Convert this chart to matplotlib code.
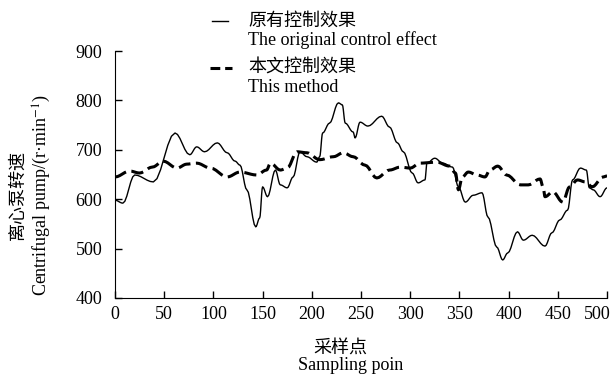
import matplotlib
matplotlib.use("Agg")
import matplotlib.pyplot as plt
from matplotlib.lines import Line2D
from matplotlib.transforms import ScaledTranslation
import numpy as np

plt.rcParams['font.family'] = ['Liberation Serif', 'Noto Sans CJK SC']
plt.rcParams['mathtext.fontset'] = 'stix'

orig_x = [0, 8, 20, 39, 61, 76, 83, 91, 104, 114, 122, 127, 134, 143, 147, 150, 155, 163, 168, 175,
          181, 188, 195, 205, 208, 211, 218, 227, 231, 234, 242, 244, 249, 257, 271, 279, 287, 293,
          302, 308, 315, 317, 325, 333, 343, 349, 356, 364, 373, 379, 388, 394, 399, 409, 415, 424,
          437, 444, 452, 460, 465, 473, 479, 482, 486, 493, 500]
orig_y = [598, 592, 649, 635, 734, 690, 706, 696, 714, 694, 677, 669, 619, 544, 562, 625, 605, 659, 629, 623,
          645, 696, 686, 675, 686, 734, 754, 795, 791, 754, 736, 724, 756, 748, 768, 746, 714, 696,
          653, 633, 639, 673, 683, 673, 665, 625, 594, 608, 613, 564, 503, 477, 491, 534, 517, 527,
          505, 532, 558, 578, 639, 663, 659, 623, 619, 605, 623]

new_x = [0, 15, 25, 38, 49, 63, 73, 83, 97, 114, 127, 144, 154, 158, 168, 175, 185, 195, 208, 222,
         232, 242, 254, 266, 279, 290, 300, 310, 327, 340, 346, 349, 353, 359, 368, 376, 381, 389,
         398, 412, 420, 432, 435, 437, 445, 455, 462, 470, 478, 485, 496, 500]
new_y = [645, 657, 653, 665, 677, 663, 671, 673, 663, 645, 655, 649, 659, 673, 659, 663, 696, 694, 680, 686,
         694, 686, 669, 643, 659, 665, 663, 673, 675, 667, 653, 619, 645, 655, 649, 645, 659, 667,
         649, 629, 629, 641, 625, 605, 615, 594, 625, 639, 635, 625, 645, 647]

xticks = [0, 50, 100, 150, 200, 250, 300, 350, 400, 450, 500]
yticks = [400, 500, 600, 700, 800, 900]

FS = 13
W, H = 616, 376
fig = plt.figure(figsize=(6.16, 3.76), dpi=100)
ax = fig.add_axes([115/W, 78/H, 492/W, 247/H])

def smooth(x, y, n=6):
    xs, ys = [], []
    x = np.asarray(x, float); y = np.asarray(y, float)
    for i in range(len(x) - 1):
        t = np.linspace(0, 1, n, endpoint=False)
        tt = (1 - np.cos(np.pi * t)) / 2
        xs.extend(x[i] + (x[i+1] - x[i]) * t)
        ys.extend(y[i] + (y[i+1] - y[i]) * tt)
    xs.append(x[-1]); ys.append(y[-1])
    return xs, ys

ox, oy = smooth(orig_x, orig_y)
nx, ny = smooth(new_x, new_y)
ax.plot(ox, oy, color='black', lw=1.0)
ax.plot(nx, ny, color='black', lw=2.2, dashes=(4, 1.8))

ax.set_xlim(0, 500)
ax.set_ylim(400, 900)
ax.set_xticks(xticks)
ax.set_yticks(yticks)
for s in ['top', 'right']:
    ax.spines[s].set_visible(False)
ax.tick_params(direction='in', length=5, width=1, labelsize=FS)
ax.tick_params(axis='y', pad=9)
ax.tick_params(axis='x', pad=6)
lbl = ax.get_xticklabels()[-1]
lbl.set_horizontalalignment('right')
lbl.set_transform(lbl.get_transform() + ScaledTranslation(4/100, 0, fig.dpi_scale_trans))

# axis titles
fig.text(31/W, 1 - 195/H, '离心泵转速\nCentrifugal pump/(r·min$^{-1}$)', fontsize=FS,
         rotation=90, ha='center', va='center', linespacing=1.25, multialignment='center')
fig.text(340/W, 1 - 349/H, '采样点', fontsize=FS, ha='center', va='center')
fig.text(351/W, 1 - 366/H, 'Sampling poin', fontsize=FS, ha='center', va='center')

# legend
fig.add_artist(Line2D([212/W, 228/W], [1 - 21/H, 1 - 21/H], color='black', lw=1.0))
fig.add_artist(Line2D([210/W, 232/W], [1 - 68/H, 1 - 68/H], color='black', lw=2.2, dashes=(3.2, 1.6)))
fig.text(248/W, 1 - 21/H, '原有控制效果', fontsize=FS, va='center')
fig.text(248/W, 1 - 40/H, 'The original control effect', fontsize=FS, va='center')
fig.text(248/W, 1 - 68/H, '本文控制效果', fontsize=FS, va='center')
fig.text(248/W, 1 - 87/H, 'This method', fontsize=FS, va='center')

fig.savefig('out.png', dpi=100)
